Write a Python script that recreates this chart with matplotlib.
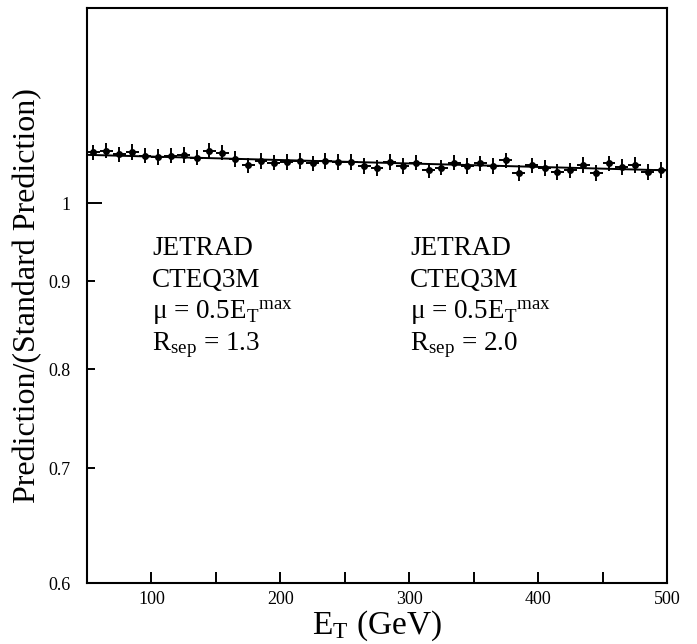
import matplotlib
matplotlib.use("Agg")
import matplotlib.pyplot as plt
from matplotlib.ticker import NullFormatter

# bin centres (GeV) and ratio values
et = [55, 65, 75, 85, 95, 105, 115, 125, 135, 145,
      155, 165, 175, 185, 195, 205, 215, 225, 235, 245,
      255, 265, 275, 285, 295, 305, 315, 325, 335, 345,
      355, 365, 375, 385, 395, 405, 415, 425, 435, 445,
      455, 465, 475, 485, 495]
ratio = [1.0705, 1.073, 1.068, 1.071, 1.066, 1.064, 1.066, 1.067, 1.063, 1.073,
         1.070, 1.061, 1.052, 1.058, 1.056, 1.057, 1.058, 1.055, 1.058, 1.057,
         1.057, 1.051, 1.048, 1.057, 1.051, 1.056, 1.045, 1.049, 1.056, 1.051,
         1.055, 1.051, 1.059, 1.041, 1.052, 1.048, 1.043, 1.045, 1.053, 1.041,
         1.055, 1.050, 1.053, 1.043, 1.046]
ratio_err = [0.011] * len(et)
bin_half = [5] * len(et)

# straight-line fit drawn over the points
fit_a = 1.0695
fit_b = -4.9e-5
fit_x = [50, 500]

y_ticks_minor = [0.6, 0.7, 0.8, 0.9]
y_tick_labels_minor = ["0.6", "0.7", "0.8", "0.9"]

plt.rcParams.update({
    "font.family": "Liberation Serif",
    "mathtext.fontset": "custom",
    "mathtext.rm": "Liberation Serif",
    "mathtext.it": "Liberation Serif:italic",
    "mathtext.bf": "Liberation Serif:bold",
})

fig = plt.figure(figsize=(6.97, 6.44), dpi=100)
ax = fig.add_axes([0.1248, 0.0947, 0.8322, 0.8929])

ax.errorbar(et, ratio, yerr=ratio_err, xerr=bin_half, fmt="o", color="black",
            markersize=4, elinewidth=1.4, capsize=0)
ax.plot(fit_x, [fit_a + fit_b * x for x in fit_x], color="black", linewidth=1.4)

ax.set_yscale("log")
ax.set_xlim(50, 500)
ax.set_ylim(0.6, 1.3)

ax.set_yticks([1])
ax.set_yticklabels(["1"])
ax.set_yticks(y_ticks_minor, minor=True)
ax.set_yticklabels(y_tick_labels_minor, minor=True)
ax.set_xticks([100, 200, 300, 400, 500])
ax.set_xticks([50, 150, 250, 350, 450], minor=True)
ax.xaxis.set_minor_formatter(NullFormatter())

ax.tick_params(axis="y", which="major", direction="in", length=11, width=1.4,
               labelsize=13, pad=12)
ax.tick_params(axis="y", which="minor", direction="in", length=6, width=1.4,
               labelsize=13, pad=12)
ax.tick_params(axis="x", which="both", direction="in", length=8, width=1.4,
               labelsize=13, pad=6)
for s in ax.spines.values():
    s.set_linewidth(1.5)

ax.set_ylabel("Prediction/(Standard Prediction)", fontsize=23, labelpad=4)
ax.set_xlabel(r"E$_{\mathrm{T}}$ (GeV)", fontsize=24, labelpad=0)

blocks = [
    (0.112, ["JETRAD", "CTEQ3M", r"μ = 0.5E$_{\mathrm{T}}{}^{\mathrm{max}}$",
             r"R$_{\mathrm{sep}}$ = 1.3"]),
    (0.557, ["JETRAD", "CTEQ3M", r"μ = 0.5E$_{\mathrm{T}}{}^{\mathrm{max}}$",
             r"R$_{\mathrm{sep}}$ = 2.0"]),
]
for xpos, lines in blocks:
    for i, line in enumerate(lines):
        ax.text(xpos, 0.570 - i * 0.055, line, transform=ax.transAxes,
                fontsize=19.5, va="baseline", ha="left")

fig.savefig("out.png", dpi=100)
